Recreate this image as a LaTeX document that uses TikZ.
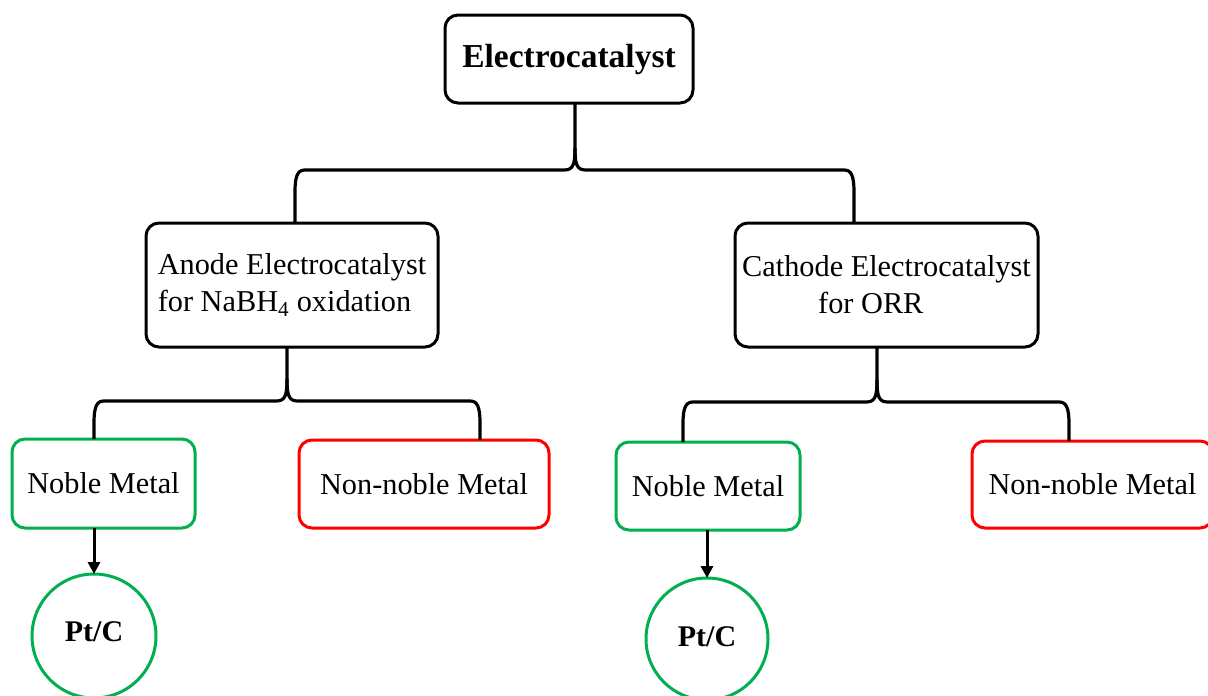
\documentclass[tikz,border=0pt]{standalone}
\usepackage{fontspec}
\setmainfont{Liberation Serif}
\usetikzlibrary{arrows.meta,calc}
\definecolor{boxgreen}{RGB}{0,176,80}
\definecolor{boxred}{RGB}{255,0,0}
\newcommand\mybrace[7]{% #1 parent, #2 stem x, #3 cusp y, #4 left x, #5 right x, #6 left child, #7 right child
  \coordinate (bs) at (#2,0);
  \coordinate (bl) at (#4,0);
  \coordinate (br) at (#5,0);
  \draw[conn] (#1.south -| bs) -- (#2,#3-22) .. controls (#2,#3-5) and (#2-2,#3) .. (#2-11,#3)
     -- (#4+10,#3) .. controls (#4+3,#3) and (#4,#3+5) .. (#4,#3+22) -- (#6.north -| bl);
  \draw[conn] (#2,#3-22) .. controls (#2,#3-5) and (#2+2,#3) .. (#2+11,#3)
     -- (#5-10,#3) .. controls (#5-3,#3) and (#5,#3+5) .. (#5,#3+22) -- (#7.north -| br);
}
\begin{document}
\begin{tikzpicture}[x=1pt,y=-1pt,
  every node/.style={inner sep=0pt, outer sep=0pt},
  bbox/.style={draw=black, line width=3pt, rounded corners=13pt, fill=white},
  gbox/.style={draw=boxgreen, line width=3pt, rounded corners=13pt, fill=white},
  rbox/.style={draw=boxred, line width=3pt, rounded corners=13pt, fill=white},
  gcirc/.style={draw=boxgreen, line width=3pt, circle, fill=white},
  conn/.style={draw=black, line width=3.2pt, line join=round},
  arr/.style={draw=black, line width=3pt, -{Triangle[width=12pt,length=12pt]}},
  txt/.style={font=\fontsize{30.3}{37}\selectfont},
  btxt/.style={font=\fontsize{30}{37}\selectfont\bfseries}
]
\useasboundingbox (0,0) rectangle (1208,696);
\fill[white] (0,0) rectangle (1208,696);
\clip (0,0) rectangle (1208,696);

\node[bbox, minimum width=248pt, minimum height=88pt, font=\fontsize{33.5}{40}\selectfont\bfseries] (top) at (569,59) {Electrocatalyst};

\node[bbox, minimum width=292pt, minimum height=124pt, txt, align=left] (anode) at (292,285)
  {Anode Electrocatalyst\\for NaBH\textsubscript{4} oxidation};
\node[bbox, minimum width=303pt, minimum height=124pt, txt, align=left] (cathode) at (886.5,285)
  {Cathode Electrocatalyst\\\hspace*{76pt}for ORR};

\node[gbox, minimum width=183pt, minimum height=89pt, txt] (noble1) at (103.5,483.5) {Noble Metal};
\node[rbox, minimum width=250pt, minimum height=88pt, txt] (non1) at (424,484) {Non-noble Metal};
\node[gbox, minimum width=184pt, minimum height=88pt, txt] (noble2) at (708,486) {Noble Metal};
\node[rbox, minimum width=241pt, minimum height=87pt, txt] (non2) at (1092.5,484.5) {Non-noble Metal};

\node[gcirc, minimum size=124pt, btxt] (pt1) at (94,636) {\raisebox{8pt}{Pt/C}};
\node[gcirc, minimum size=122pt, btxt] (pt2) at (707,639) {\raisebox{5pt}{Pt/C}};

\mybrace{top}{575}{170}{295}{854}{anode}{cathode}
\mybrace{anode}{287}{401}{94}{480}{noble1}{non1}
\mybrace{cathode}{877}{402}{683}{1069}{noble2}{non2}

\coordinate (a1) at (94,0);
\coordinate (a2) at (707,0);
\draw[arr] (noble1.south -| a1) -- (pt1.north);
\draw[arr] (noble2.south -| a2) -- (pt2.north);
\end{tikzpicture}
\end{document}
